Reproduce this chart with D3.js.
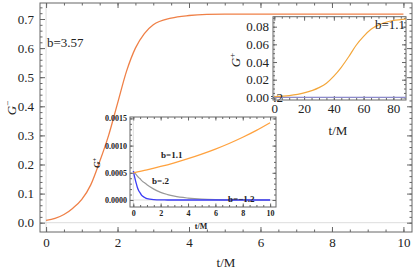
<!DOCTYPE html>
<html>
<head>
<meta charset="utf-8">
<script src="https://cdn.jsdelivr.net/npm/d3@7"></script>
<style>
  body { margin: 0; background: #fff; }
  text { font-family: "Liberation Serif", "Times New Roman", serif; }
</style>
</head>
<body>
<div id="chart"></div>
<script>
// main curve, b=3.57
const mainT = [0, 0.25, 0.5, 0.75, 1, 1.25, 1.5, 1.75, 2, 2.25, 2.5, 2.75, 3, 3.5, 4, 4.5, 5, 6, 7, 8, 9, 10];
const mainG = [0.008, 0.015, 0.028, 0.05, 0.08, 0.13, 0.21, 0.30, 0.41, 0.52, 0.60, 0.65, 0.68, 0.703, 0.712, 0.716, 0.717, 0.717, 0.717, 0.717, 0.717, 0.717];

// top inset, long times
const lateT = [0, 10, 20, 30, 35, 40, 45, 50, 55, 60, 65, 70, 75, 80, 85, 90];
const lateB11 = [0.0008, 0.002, 0.005, 0.011, 0.016, 0.024, 0.034, 0.046, 0.059, 0.069, 0.077, 0.082, 0.085, 0.087, 0.088, 0.089];
const lateB02 = [0, 0, 0, 0, 0, 0, 0, 0, 0, 0, 0, 0, 0, 0, 0, 0];

// lower inset, early times
const earlyT = [0, 1, 2, 3, 4, 5, 6, 7, 8, 9, 10];
const earlyB11 = [0.00050, 0.000555, 0.000616, 0.000684, 0.000759, 0.000843, 0.000936, 0.001039, 0.001153, 0.00128, 0.001421];
const decT = [0, 0.1, 0.2, 0.3, 0.4, 0.5, 0.6, 0.8, 1, 1.5, 2, 2.5, 3, 4, 5, 6, 8, 10];
const decB02 = [0.00053, 0.0005, 0.00047, 0.00044, 0.00041, 0.00039, 0.00036, 0.00032, 0.00028, 0.0002, 0.00014, 0.0001, 0.00007, 0.000035, 0.000015, 0.000007, 0.000002, 0];
const decBm12 = [0.00053, 0.00042, 0.00032, 0.00023, 0.00017, 0.00013, 0.00009, 0.00005, 0.000025, 0.000006, 0.000001, 0, 0, 0, 0, 0, 0, 0];

const mainXTicks = [0, 2, 4, 6, 8, 10];
const mainYTicks = [0, 0.1, 0.2, 0.3, 0.4, 0.5, 0.6, 0.7];
const lateXTicks = [0, 20, 40, 60, 80];
const lateYTicks = [0, 0.02, 0.04, 0.06, 0.08];
const earlyXTicks = [0, 2, 4, 6, 8, 10];
const earlyYTicks = [0, 0.0005, 0.001, 0.0015];

const W = 415, H = 273;
const svg = d3.select('#chart').append('svg').attr('width', W).attr('height', H);
const frameColor = '#666';

function range(a, b, s) {
  const out = [];
  for (let v = a; v <= b + s / 1000; v += s) out.push(+v.toFixed(6));
  return out;
}

// draw a framed panel with inward ticks on all four sides
function panel(id, x, y, o) {
  const g = svg.append('g');
  const [x0, x1] = x.range(), [y0, y1] = y.range();
  g.append('rect').attr('x', x0).attr('y', y1).attr('width', x1 - x0).attr('height', y0 - y1).attr('fill', '#fff');
  g.append('line').attr('x1', x(0)).attr('x2', x(0)).attr('y1', y0).attr('y2', y1).attr('stroke', '#ddd').attr('stroke-width', 1);
  g.append('line').attr('x1', x0).attr('x2', x1).attr('y1', y(0)).attr('y2', y(0)).attr('stroke', '#ddd').attr('stroke-width', 1);

  const sides = [
    [d3.axisBottom(x), `translate(0,${y0})`, o.xTicks, o.xMinor, true],
    [d3.axisTop(x), `translate(0,${y1})`, o.xTicks, o.xMinor, false],
    [d3.axisLeft(y), `translate(${x0},0)`, o.yTicks, o.yMinor, true],
    [d3.axisRight(y), `translate(${x1},0)`, o.yTicks, o.yMinor, false]
  ];
  sides.forEach(([ax, tr, major, minor, lab], i) => {
    const fmt = i < 2 ? o.xFmt : o.yFmt;
    const minorG = g.append('g').attr('transform', tr)
      .call(ax.tickValues(minor).tickFormat('').tickSize(-o.minorLen).tickSizeOuter(0));
    minorG.select('.domain').remove();
    minorG.selectAll('line').attr('stroke', frameColor);
    const majorG = g.append('g').attr('transform', tr)
      .call(ax.tickValues(major).tickFormat(lab ? fmt : '').tickSize(-o.majorLen).tickSizeOuter(0).tickPadding(o.pad));
    majorG.select('.domain').remove();
    majorG.selectAll('line').attr('stroke', frameColor);
    majorG.selectAll('text').attr('font-family', '"Liberation Serif", serif')
      .attr('font-size', o.fontSize).attr('font-weight', o.bold ? 'bold' : 'normal').attr('fill', '#222');
  });
  g.append('rect').attr('x', x0).attr('y', y1).attr('width', x1 - x0).attr('height', y0 - y1)
    .attr('fill', 'none').attr('stroke', frameColor).attr('stroke-width', 1);

  svg.append('clipPath').attr('id', id).append('rect')
    .attr('x', x0).attr('y', y1).attr('width', x1 - x0).attr('height', y0 - y1);
  return g;
}

function curve(g, id, x, y, ts, vs, color, w) {
  const line = d3.line().x((d, i) => x(ts[i])).y(d => y(d)).curve(d3.curveMonotoneX);
  g.append('path').datum(vs).attr('d', line).attr('fill', 'none')
    .attr('stroke', color).attr('stroke-width', w).attr('clip-path', `url(#${id})`);
}

function ylabel(g, cx, cy, sup, size, bold) {
  const t = g.append('text').attr('transform', `translate(${cx},${cy}) rotate(-90)`)
    .attr('text-anchor', 'middle').attr('font-size', size).attr('font-weight', bold ? 'bold' : 'normal').attr('fill', '#222');
  t.append('tspan').attr('font-style', 'italic').text('G');
  t.append('tspan').attr('baseline-shift', 'super').attr('font-size', '70%').text(sup);
}

// main plot
const x = d3.scaleLinear().domain([-0.17, 10.24]).range([40, 412]);
const y = d3.scaleLinear().domain([-0.032, 0.755]).range([232, 3]);
const gm = panel('clipMain', x, y, {
  xTicks: mainXTicks, xMinor: range(0, 10, 0.5), yTicks: mainYTicks, yMinor: range(0, 0.74, 0.02),
  xFmt: d3.format('d'), yFmt: d3.format('.1f'), majorLen: 5, minorLen: 2.5, pad: 6, fontSize: 13
});
curve(gm, 'clipMain', x, y, mainT, mainG, '#ef8047', 1.3);
gm.append('text').attr('x', 47).attr('y', 47).attr('font-size', 13).attr('fill', '#222').text('b=3.57');
gm.append('text').attr('x', 226).attr('y', 267).attr('text-anchor', 'middle').attr('font-size', 13).attr('fill', '#222').text('t/M');
ylabel(gm, 16, 108, '−', 13, false);

// top-right inset
const x1 = d3.scaleLinear().domain([-0.9, 88.5]).range([273, 406]);
const y1 = d3.scaleLinear().domain([-0.003, 0.0913]).range([100, 16.7]);
const g1 = panel('clipLate', x1, y1, {
  xTicks: lateXTicks, xMinor: range(0, 85, 5), yTicks: lateYTicks, yMinor: range(0, 0.09, 0.005),
  xFmt: d3.format('d'), yFmt: d3.format('.2f'), majorLen: 4, minorLen: 2, pad: 4, fontSize: 13
});
curve(g1, 'clipLate', x1, y1, lateT, lateB02, '#8d8bcc', 1.2);
curve(g1, 'clipLate', x1, y1, lateT, lateB11, '#f3a73c', 1.2);
g1.append('text').attr('x', 405).attr('y', 29).attr('text-anchor', 'end').attr('font-size', 13).attr('fill', '#222').text('b=1.1');
g1.append('text').attr('x', 283).attr('y', 102).attr('text-anchor', 'end').attr('font-size', 13).attr('fill', '#222')
  .attr('clip-path', 'url(#clipLateText)').text('b=.2');
svg.append('clipPath').attr('id', 'clipLateText').append('rect').attr('x', 271).attr('y', 85).attr('width', 20).attr('height', 20);
g1.append('text').attr('x', 338).attr('y', 135).attr('text-anchor', 'middle').attr('font-size', 13).attr('fill', '#222').text('t/M');
ylabel(g1, 240, 60, '+', 13, false);

// lower inset
const x2 = d3.scaleLinear().domain([-0.24, 10.43]).range([130, 276]);
const y2 = d3.scaleLinear().domain([-0.000129, 0.001526]).range([207, 117]);
const g2 = panel('clipEarly', x2, y2, {
  xTicks: earlyXTicks, xMinor: range(0, 10, 0.5), yTicks: earlyYTicks, yMinor: range(0, 0.0015, 0.0001),
  xFmt: d3.format('d'), yFmt: d3.format('.4f'), majorLen: 3.5, minorLen: 2, pad: 3, fontSize: 8, bold: true
});
curve(g2, 'clipEarly', x2, y2, decT, decB02, '#999', 1.2);
curve(g2, 'clipEarly', x2, y2, decT, decBm12, '#3b3bf5', 1.3);
curve(g2, 'clipEarly', x2, y2, earlyT, earlyB11, '#ffa23f', 1.3);
const lab2 = [['b=1.1', 161, 158], ['b=.2', 152, 184], ['b=−1.2', 228, 202]];
g2.selectAll('text.lab').data(lab2).join('text').attr('class', 'lab')
  .attr('x', d => d[1]).attr('y', d => d[2]).attr('font-size', 9).attr('font-weight', 'bold').attr('fill', '#222').text(d => d[0]);
g2.append('text').attr('x', 201).attr('y', 229).attr('text-anchor', 'middle').attr('font-size', 8).attr('font-weight', 'bold').attr('fill', '#222').text('t/M');
ylabel(g2, 100, 163, '+', 9, true);
</script>
</body>
</html>
